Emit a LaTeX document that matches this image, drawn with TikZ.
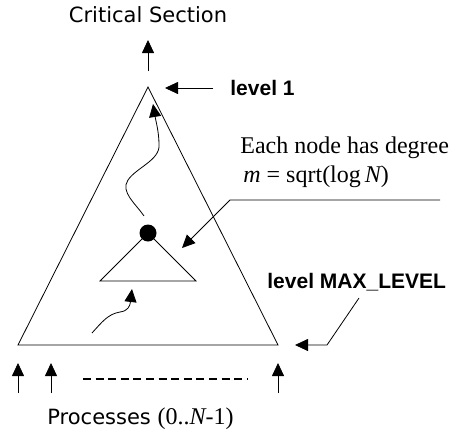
\documentclass[tikz,border=0pt]{standalone}
\usepackage{fontspec}
\setmainfont{Liberation Serif}
\newfontfamily\tahoma{DejaVu Sans}
\newfontfamily\arialfont{Liberation Sans}
\usetikzlibrary{arrows.meta}

\tikzset{
  arr/.style={-{Triangle[length=13pt,width=12pt]}},
  sanslabel/.style={font=\tahoma\fontsize{21}{25}\selectfont, inner sep=0pt},
  boldlabel/.style={font=\arialfont\bfseries\fontsize{21}{25}\selectfont, inner sep=0pt},
  seriflabel/.style={font=\fontsize{24}{29}\selectfont, inner sep=0pt}
}

\begin{document}
\begin{tikzpicture}[x=1pt,y=-1pt,line width=0.8pt]
  \useasboundingbox (0,0) rectangle (454,436);
  % corners of the tree and of one sub-tree
  \coordinate (top) at (148,87);
  \coordinate (bl) at (18,345);
  \coordinate (br) at (278,345);
  \coordinate (dot) at (148,233);
  \coordinate (sl) at (100,281);
  \coordinate (sr) at (196,281);
  \draw (top) -- (bl) -- (br) -- cycle;
  \draw (dot) -- (sl) -- (sr) -- cycle;
  \fill (dot) circle (8.5);

  % labels
  \node[sanslabel, anchor=base] (crit) at (148,23) {Critical Section};
  \node[boldlabel, anchor=base west] (lvl1) at (230,95) {level 1};
  \node[seriflabel, anchor=base west] (deg) at (240,153) {Each node has degree};
  \node[seriflabel, anchor=base west] (degm) at (243,182)
    {\itshape m\upshape{} = sqrt(log\,\itshape N\upshape)};
  \node[boldlabel, anchor=base west] (lvlmax) at (267,288) {level MAX\_LEVEL};
  \node[anchor=base west, inner sep=0pt] (procs) at (47,424)
    {\tahoma\fontsize{21}{25}\selectfont Processes
     \rmfamily\fontsize{24}{28}\selectfont(0..\itshape N\upshape-1)};

  % arrows at the top
  \coordinate (out1) at (148,71);
  \coordinate (out2) at (148,40);
  \draw[arr] (out1) -- (out2);
  \coordinate (l1a) at (213,88);
  \coordinate (l1b) at (165,88);
  \draw[arr] (l1a) -- (l1b);

  % path of one process up the tree
  \coordinate (w1) at (144,216);
  \coordinate (w2) at (153,104);
  \draw[arr] (w1) .. controls (136,204) and (120,192) .. (128,180)
    .. controls (136,168) and (160,160) .. (159,145)
    .. controls (159,132) and (156,122) .. (w2);
  \coordinate (v1) at (92,333);
  \coordinate (v2) at (132,289);
  \draw[arr] (v1) .. controls (102,322) and (108,314) .. (120,312)
    .. controls (128,311) and (130,306) .. (v2);

  % callouts
  \coordinate (d1) at (440,200);
  \coordinate (d2) at (230,200);
  \coordinate (d3) at (182,248);
  \draw[arr] (d1) -- (d2) -- (d3);
  \coordinate (m1) at (359,298);
  \coordinate (m2) at (327,345);
  \coordinate (m3) at (295,345);
  \draw[arr] (m1) -- (m2) -- (m3);

  % processes entering at the leaves
  \foreach \px [count=\i] in {18,51,278} {
    \coordinate (p\i a) at (\px,393);
    \coordinate (p\i b) at (\px,363);
    \draw[arr] (p\i a) -- (p\i b);
  }
  \coordinate (dsa) at (83,379);
  \coordinate (dsb) at (247,379);
  \draw[line width=1.6pt, dash pattern=on 8pt off 4.6pt] (dsa) -- (dsb);
\end{tikzpicture}
\end{document}
